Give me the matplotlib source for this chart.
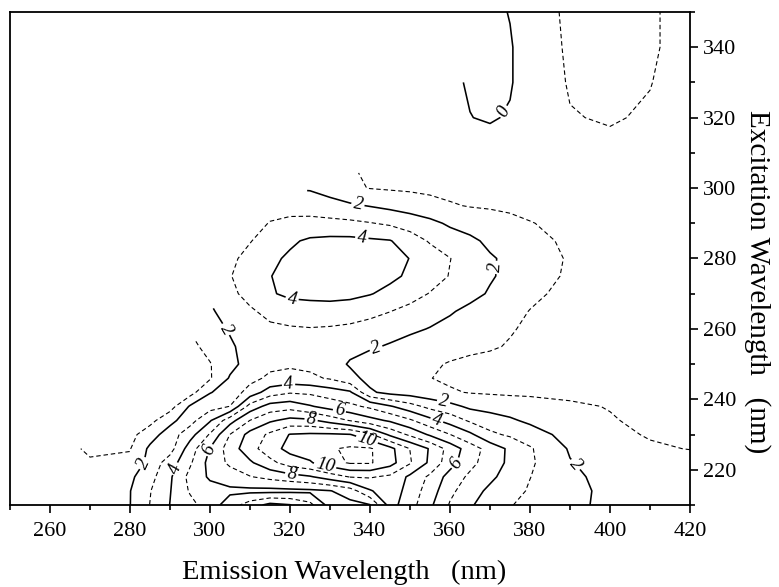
import numpy as np
import matplotlib
matplotlib.use("Agg")
import matplotlib.pyplot as plt
from matplotlib.ticker import MultipleLocator

plt.rcParams['font.family'] = ['Liberation Serif', 'DejaVu Serif']
plt.rcParams['lines.dashed_pattern'] = [4.0, 2.6]

nan = np.nan

# grid (emission in columns, excitation in rows)
emission = [250, 260, 270, 280, 285, 290, 295, 300, 305, 310, 315, 320, 325, 330,
            335, 340, 345, 350, 355, 360, 365, 370, 375, 380, 390, 400, 410, 420]
excitation = [210, 214, 218, 222, 226, 230, 234, 238, 242, 246, 250, 255, 260, 265,
              270, 275, 280, 285, 290, 295, 300, 310, 320, 330, 340, 350]

intensity = [
    [1.3, 1.4, 1.6, 1.98, 3.02, 4.02, 4.7, 5.5, 6.5, 7.5, 8.3, 8.05, 7.3, 5.6, 5.7, 5.95, 8.4, 7.4, 6.2, 4.9, 4.1, 3.6, 3.05, 2.75, 2.25, 1.75, 1.6, 1.5],
    [1.3, 1.4, 1.55, 1.97, 2.95, 3.95, 5.1, 5.6, 5.8, 5.75, 5.7, 5.75, 5.8, 5.95, 6.5, 7.9, 8.6, 7.6, 6.5, 5.25, 4.4, 3.8, 3.35, 2.9, 2.3, 1.75, 1.55, 1.45],
    [1.3, 1.4, 1.5, 1.8, 2.65, 3.85, 5.3, 6.15, 6.5, 6.95, 7.3, 7.6, 7.9, 8.5, 9.05, 9.1, 8.8, 7.8, 6.8, 5.6, 4.8, 4.2, 3.6, 3.02, 2.2, 1.7, 1.5, 1.4],
    [1.35, 1.45, 1.1, 1.2, 2.35, 3.5, 4.85, 6.35, 7.2, 7.85, 8.7, 9.5, 9.9, 10.6, 11.1, 11.1, 10.4, 9.1, 7.8, 6.4, 5.3, 4.5, 3.8, 3.15, 2.05, 1.6, 1.35, 1.25],
    [nan, 1.5, 0.85, 0.95, 2.2, 2.6, 4.5, 6.05, 7.5, 8.6, 9.6, 10.3, 10.5, 10.9, 11.15, 11.1, 10.3, 8.98, 7.9, 6.6, 5.5, 4.6, 3.8, 3.1, 1.9, 1.45, 1.08, 0.98],
    [nan, nan, nan, 0.7, 1.55, 2.5, 3.6, 5.1, 7.02, 8.35, 9.2, 10.05, 10.15, 10.15, 10.05, 9.2, 7.8, 6.8, 5.85, 5.02, 4.2, 3.2, 2.85, 2.5, 1.6, 1.15, 0.95, 0.85],
    [nan, nan, nan, 0.6, 0.7, 1.7, 2.6, 3.9, 5.6, 7.02, 7.85, 8.3, 8.2, 7.6, 6.95, 6.35, 5.85, 5.15, 4.3, 3.6, 2.85, 2.5, 2.15, 1.8, 1.3, 1.05, 0.85, 0.8],
    [nan, nan, nan, nan, 0.5, 0.6, 2.1, 2.6, 3.02, 5.4, 6.4, 6.6, 6.1, 5.6, 5.25, 4.8, 4.1, 3.4, 2.7, 2.3, 1.8, 1.6, 1.5, 1.35, 1.1, 0.97, 0.85, 0.8],
    [nan, nan, nan, nan, 0.4, 0.5, 0.6, 1.95, 2.4, 3.4, 4.5, 4.9, 4.8, 4.5, 4.15, 2.15, 1.7, 1.55, 1.35, 1.1, 0.95, 0.9, 0.85, 0.85, 0.85, 0.8, 0.75, 0.7],
    [nan, nan, nan, nan, nan, 0.4, 0.55, 0.9, 2.1, 2.7, 3.2, 3.35, 3.2, 2.9, 2.3, 1.7, 1.35, 1.15, 1.02, 0.85, 0.8, 0.75, 0.75, 0.75, 0.75, 0.7, 0.65, 0.6],
    [nan, nan, nan, nan, nan, 0.4, 0.5, 0.95, 1.7, 2.4, 2.75, 2.85, 2.75, 2.45, 1.9, 1.55, 1.35, 1.2, 1.1, 0.95, 0.85, 0.8, 0.75, 0.7, 0.7, 0.65, 0.6, 0.55],
    [nan, nan, nan, nan, nan, nan, 0.75, 1.3, 1.85, 2.4, 2.65, 2.7, 2.6, 2.45, 2.3, 2.12, 1.9, 1.6, 1.4, 1.25, 1.15, 1.07, 0.95, 0.85, 0.75, 0.7, 0.65, 0.6],
    [nan, nan, nan, nan, nan, nan, nan, 1.6, 2.1, 2.5, 2.8, 2.9, 2.95, 2.9, 2.8, 2.6, 2.4, 2.2, 1.95, 1.7, 1.45, 1.25, 1.05, 0.9, 0.75, 0.7, 0.65, 0.6],
    [nan, nan, nan, nan, nan, nan, nan, 1.85, 2.45, 2.85, 3.3, 3.5, 3.6, 3.6, 3.5, 3.3, 3.02, 2.7, 2.45, 2.1, 1.75, 1.45, 1.2, 0.98, 0.8, 0.7, 0.65, 0.6],
    [nan, nan, nan, nan, nan, nan, nan, nan, 2.75, 3.35, 3.9, 4.2, 4.25, 4.3, 4.25, 4.05, 3.75, 3.4, 2.95, 2.65, 2.3, 1.9, 1.6, 1.15, 0.8, 0.75, 0.7, 0.65],
    [nan, nan, nan, nan, nan, nan, nan, nan, 2.95, 3.5, 3.97, 4.3, 4.45, 4.55, 4.55, 4.45, 4.2, 3.85, 3.45, 2.95, 2.55, 2.1, 1.75, 1.45, 0.85, 0.75, 0.7, 0.65],
    [nan, nan, nan, nan, nan, nan, nan, nan, 2.8, 3.3, 3.8, 4.15, 4.5, 4.6, 4.6, 4.5, 4.3, 3.98, 3.5, 3.02, 2.6, 2.1, 1.8, 1.5, 0.9, 0.75, 0.7, 0.65],
    [nan, nan, nan, nan, nan, nan, nan, nan, nan, 2.95, 3.45, 3.85, 4.15, 4.25, 4.25, 4.15, 4.05, 3.5, 2.9, 2.5, 2.2, 1.8, 1.5, 1.25, 0.85, 0.7, 0.65, 0.6],
    [nan, nan, nan, nan, nan, nan, nan, nan, nan, 2.6, 3.05, 3.25, 3.3, 3.25, 3.2, 3.05, 2.85, 2.55, 2.25, 1.85, 1.6, 1.4, 1.2, 1.03, 0.8, 0.7, 0.65, 0.6],
    [nan, nan, nan, nan, nan, nan, nan, nan, nan, nan, 2.6, 2.6, 2.55, 2.4, 2.15, 1.95, 1.75, 1.55, 1.3, 1.08, 0.95, 0.9, 0.85, 0.8, 0.75, 0.7, 0.65, 0.6],
    [nan, nan, nan, nan, nan, nan, nan, nan, nan, nan, nan, nan, 1.9, 1.55, 1.15, 0.97, 0.9, 0.85, 0.8, 0.75, 0.7, 0.7, 0.7, 0.7, 0.7, 0.7, 0.65, 0.6],
    [nan, nan, nan, nan, nan, nan, nan, nan, nan, nan, nan, nan, nan, nan, nan, 0.8, 0.75, 0.7, 0.65, 0.6, 0.55, 0.5, 0.55, 0.6, 0.8, 0.85, 0.8, 0.7],
    [nan, nan, nan, nan, nan, nan, nan, nan, nan, nan, nan, nan, nan, nan, nan, nan, nan, 0.5, 0.4, 0.25, 0.02, -0.1, 0.1, 0.45, 0.97, 1.05, 0.93, 0.75],
    [nan, nan, nan, nan, nan, nan, nan, nan, nan, nan, nan, nan, nan, nan, nan, nan, nan, nan, nan, 0.2, -0.1, -0.3, -0.1, 0.6, 1.05, 1.3, 1.02, 0.7],
    [nan, nan, nan, nan, nan, nan, nan, nan, nan, nan, nan, nan, nan, nan, nan, nan, nan, nan, nan, nan, nan, -0.35, -0.1, 0.6, 1.1, 1.4, 1.1, 0.7],
    [nan, nan, nan, nan, nan, nan, nan, nan, nan, nan, nan, nan, nan, nan, nan, nan, nan, nan, nan, nan, nan, -0.3, 0.05, 0.6, 1.15, 1.5, 1.1, 0.7],
]

even_levels = [0, 2, 4, 6, 8, 10]
odd_levels = [1, 3, 5, 7, 9, 11]

# where the numbers sit on the solid lines
label_spots = [(373, 322), (337, 295.5), (371, 277.5), (341.7, 253.9), (358.3, 238.8),
               (391.7, 221.8), (304.2, 260), (283.3, 221.8), (338, 286.5), (320.4, 267.1),
               (319.6, 244.5), (356.7, 234.1), (290.8, 220.5), (300, 225.6), (332.3, 236.4),
               (362, 221.3), (325.4, 235), (320.4, 218.5), (339.2, 228.4), (328.8, 221.3)]

X, Y = np.meshgrid(emission, excitation)
Z = np.ma.masked_invalid(np.array(intensity, dtype=float))

fig = plt.figure(figsize=(7.79, 5.87), dpi=100)
ax = fig.add_axes([0.0128, 0.1397, 0.873, 0.8399])

solid = ax.contour(X, Y, Z, levels=even_levels, colors='black', linewidths=1.15,
                   linestyles='solid')
dashed = ax.contour(X, Y, Z, levels=odd_levels, colors='black', linewidths=0.8,
                    linestyles='dashed')
labels = ax.clabel(solid, fmt='%d', fontsize=13.5, inline=True, inline_spacing=2,
                   manual=label_spots)
for t in labels:
    t.set_fontstyle('italic')

ax.set_xlim(250, 420)
ax.set_ylim(210, 350)
ax.xaxis.set_major_locator(MultipleLocator(20))
ax.xaxis.set_minor_locator(MultipleLocator(10))
ax.yaxis.set_major_locator(MultipleLocator(20))
ax.yaxis.set_minor_locator(MultipleLocator(10))

ax.tick_params(axis='x', which='both', direction='out', top=False, bottom=True,
               labelsize=16, width=1.2)
ax.tick_params(axis='y', which='both', direction='out', left=False, right=True,
               labelleft=False, labelright=True, labelsize=16, width=1.2)
ax.tick_params(which='major', length=6)
ax.tick_params(which='minor', length=3.5)
ax.tick_params(axis='x', which='major', pad=6)
for sp in ax.spines.values():
    sp.set_linewidth(1.3)

ax.set_xlabel('Emission Wavelength   (nm)', fontsize=20.5, va='center')
ax.xaxis.set_label_coords(0.491, -0.137)
ax.yaxis.set_label_position('right')
ax.set_ylabel('Excitation Wavelength   (nm)', fontsize=21, rotation=270, va='center')
ax.yaxis.set_label_coords(1.099, 0.453)

fig.savefig('out.png', dpi=100)
